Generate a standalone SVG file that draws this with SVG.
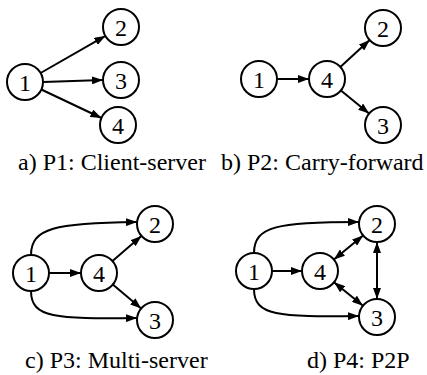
<svg xmlns="http://www.w3.org/2000/svg" width="427" height="375" viewBox="0 0 427 375">
  <style>
    .node circle { fill: #fff; stroke: #000; stroke-width: 2; }
    .node text { font-family: "Liberation Serif", "Times New Roman", serif; font-size: 24px; text-anchor: middle; fill: #000; }
    .edge { fill: none; stroke: #000; stroke-width: 2; }
    .one { marker-end: url(#arrow); }
    .two { marker-start: url(#arrow); marker-end: url(#arrow); }
    .caption { font-family: "Liberation Serif", "Times New Roman", serif; font-size: 24px; fill: #000; }
  </style>
  <defs>
    <marker id="arrow" markerUnits="userSpaceOnUse" markerWidth="11" markerHeight="8" refX="11" refY="4" orient="auto-start-reverse">
      <path d="M0,0 L11,4 L0,8 z" fill="#000"/>
    </marker>
  </defs>
  <rect width="427" height="375" fill="#fff"/>

  <!-- connectors -->
  <g id="connectors">
    <!-- a) client-server -->
    <line class="edge one" x1="40.6" y1="73" x2="105.4" y2="35.9"/>
    <line class="edge one" x1="43" y1="82" x2="103" y2="80"/>
    <line class="edge one" x1="41.3" y1="89.5" x2="101.5" y2="118"/>
    <!-- b) carry-forward -->
    <line class="edge one" x1="277" y1="79" x2="309" y2="79"/>
    <line class="edge one" x1="340.3" y1="66.9" x2="369.7" y2="40.1"/>
    <line class="edge one" x1="340.9" y1="90.4" x2="369.1" y2="113.6"/>
    <!-- c) multi-server -->
    <line class="edge one" x1="49" y1="273" x2="81" y2="273"/>
    <line class="edge one" x1="112.5" y1="261.1" x2="141.4" y2="235.9"/>
    <line class="edge one" x1="112.8" y1="284.6" x2="141.2" y2="308.4"/>
    <path class="edge one" d="M31,255 C31,228 55,223 137,222"/>
    <path class="edge one" d="M31,291 C31,318 55,319 137,318"/>
    <!-- d) P2P -->
    <line class="edge one" x1="272" y1="271" x2="302" y2="271"/>
    <path class="edge one" d="M254,253 C254,226 278,222 359,222"/>
    <path class="edge one" d="M254,289 C254,316 278,317 359,316"/>
    <line class="edge two" x1="333.9" y1="259.6" x2="363.1" y2="235.5"/>
    <line class="edge two" x1="334" y1="282.3" x2="363" y2="305.7"/>
    <line class="edge two" x1="377" y1="242" x2="377" y2="299"/>
  </g>

  <!-- a) client-server -->
  <g id="a1" class="node"><circle cx="25" cy="82" r="18"/><text x="25" y="90.5">1</text></g>
  <g id="a2" class="node"><circle cx="121" cy="27" r="18"/><text x="121" y="35.5">2</text></g>
  <g id="a3" class="node"><circle cx="121" cy="80" r="18"/><text x="121" y="88.5">3</text></g>
  <g id="a4" class="node"><circle cx="118" cy="125" r="18"/><text x="118" y="133.5">4</text></g>

  <!-- b) carry-forward -->
  <g id="b1" class="node"><circle cx="259" cy="79" r="18"/><text x="259" y="87.5">1</text></g>
  <g id="b4" class="node"><circle cx="327" cy="79" r="18"/><text x="327" y="87.5">4</text></g>
  <g id="b2" class="node"><circle cx="383" cy="28" r="18"/><text x="383" y="36.5">2</text></g>
  <g id="b3" class="node"><circle cx="383" cy="125" r="18"/><text x="383" y="133.5">3</text></g>

  <!-- c) multi-server -->
  <g id="c1" class="node"><circle cx="31" cy="273" r="18"/><text x="31" y="281.5">1</text></g>
  <g id="c4" class="node"><circle cx="99" cy="273" r="18"/><text x="99" y="281.5">4</text></g>
  <g id="c2" class="node"><circle cx="155" cy="224" r="18"/><text x="155" y="232.5">2</text></g>
  <g id="c3" class="node"><circle cx="155" cy="320" r="18"/><text x="155" y="328.5">3</text></g>

  <!-- d) P2P -->
  <g id="d1" class="node"><circle cx="254" cy="271" r="18"/><text x="254" y="279.5">1</text></g>
  <g id="d4" class="node"><circle cx="320" cy="271" r="18"/><text x="320" y="279.5">4</text></g>
  <g id="d2" class="node"><circle cx="377" cy="224" r="18"/><text x="377" y="232.5">2</text></g>
  <g id="d3" class="node"><circle cx="377" cy="317" r="18"/><text x="377" y="325.5">3</text></g>

  <!-- captions -->
  <text class="caption" x="18" y="170">a) P1: Client-server</text>
  <text class="caption" x="221" y="170">b) P2: Carry-forward</text>
  <text class="caption" x="25" y="368">c) P3: Multi-server</text>
  <text class="caption" x="307" y="368">d) P4: P2P</text>
</svg>
